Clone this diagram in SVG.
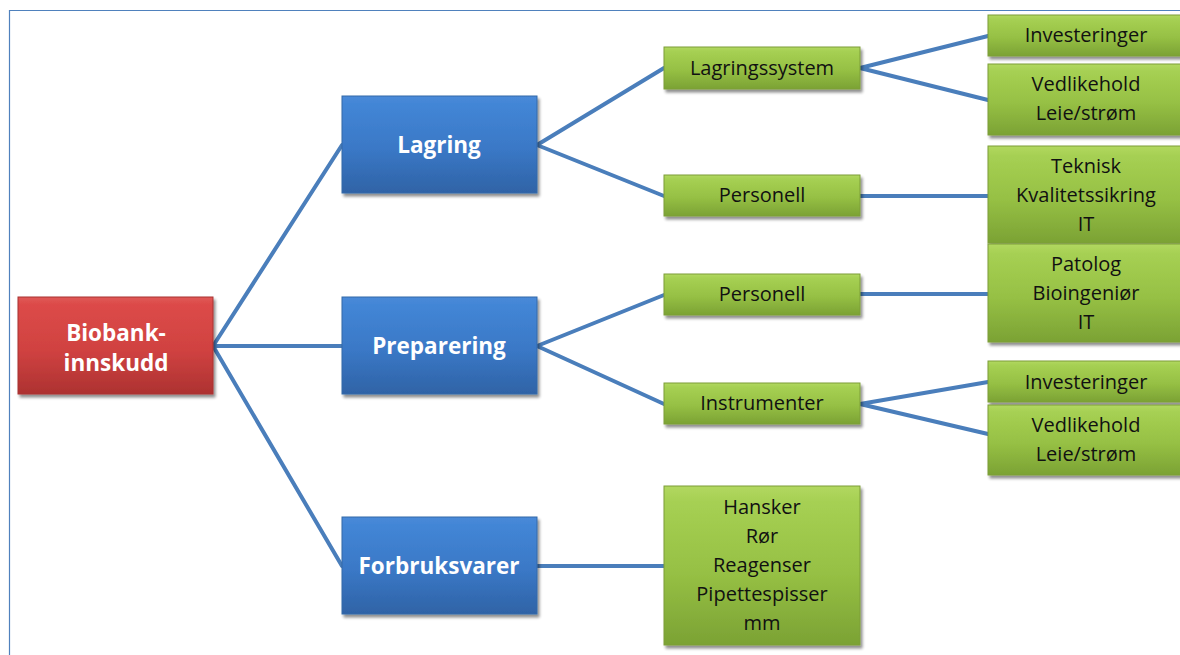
<svg xmlns="http://www.w3.org/2000/svg" width="1180" height="655" viewBox="0 0 1180 655">
<defs>
<linearGradient id="gBlue" x1="0" y1="0" x2="0" y2="1">
<stop offset="0" stop-color="#4a8ad8"/><stop offset="0.08" stop-color="#4386d6"/><stop offset="0.55" stop-color="#3a78c6"/><stop offset="1" stop-color="#2f63a6"/>
</linearGradient>
<linearGradient id="gRed" x1="0" y1="0" x2="0" y2="1">
<stop offset="0" stop-color="#e05a58"/><stop offset="0.08" stop-color="#dc4a48"/><stop offset="0.55" stop-color="#d04241"/><stop offset="1" stop-color="#ad3231"/>
</linearGradient>
<linearGradient id="gGreen" x1="0" y1="0" x2="0" y2="1">
<stop offset="0" stop-color="#b2d860"/><stop offset="0.1" stop-color="#a6d053"/><stop offset="0.55" stop-color="#96c044"/><stop offset="1" stop-color="#7ba234"/>
</linearGradient>
<filter id="sh" x="-10%" y="-10%" width="125%" height="130%">
<feGaussianBlur in="SourceAlpha" stdDeviation="1.5"/>
<feOffset dx="1.5" dy="2.5" result="o"/>
<feComponentTransfer><feFuncA type="linear" slope="0.45"/></feComponentTransfer>
<feMerge><feMergeNode/><feMergeNode in="SourceGraphic"/></feMerge>
</filter>
</defs>
<style>
.blue{fill:url(#gBlue);stroke:#3468a8;stroke-width:1;filter:url(#sh)}
.red{fill:url(#gRed);stroke:#a83231;stroke-width:1;filter:url(#sh)}
.green{fill:url(#gGreen);stroke:#7c9e38;stroke-width:1;filter:url(#sh)}
.wt{font-family:"Open Sans","Liberation Sans",sans-serif;font-weight:bold;font-size:22.5px;fill:#ffffff;text-anchor:middle}
.bt{font-family:"Open Sans","Liberation Sans",sans-serif;font-size:20px;fill:#111111;text-anchor:middle}
.conn{stroke:#4a7ebb;stroke-width:4;fill:none;stroke-linecap:round}
.frame{fill:none;stroke:#4f81bd;stroke-width:1.2}
</style>
<rect width="1180" height="655" fill="#ffffff"/>
<path class="frame" d="M9.5,655 V10.5 H1180"/>
<g id="connectors">
<path class="conn" d="M213,346 L342,145"/>
<path class="conn" d="M213,346 L342,346"/>
<path class="conn" d="M213,346 L342,566"/>
<path class="conn" d="M537,145 L664,68"/>
<path class="conn" d="M537,145 L664,196"/>
<path class="conn" d="M537,346 L664,295"/>
<path class="conn" d="M537,346 L664,404"/>
<path class="conn" d="M537,566 L664,566"/>
<path class="conn" d="M860,68 L988,36"/>
<path class="conn" d="M860,68 L988,100"/>
<path class="conn" d="M860,196 L988,196"/>
<path class="conn" d="M860,294 L988,294"/>
<path class="conn" d="M860,404 L988,382"/>
<path class="conn" d="M860,404 L988,434"/>
</g>
<g id="biobank"><rect class="red" x="18" y="297" width="195" height="97"/><text class="wt" x="116" y="341">Biobank-</text><text class="wt" x="116" y="371">innskudd</text></g>
<g id="lagring"><rect class="blue" x="342" y="96" width="195" height="97"/><text class="wt" x="439" y="153">Lagring</text></g>
<g id="preparering"><rect class="blue" x="342" y="297" width="195" height="97"/><text class="wt" x="439" y="354">Preparering</text></g>
<g id="forbruksvarer"><rect class="blue" x="342" y="517" width="195" height="97"/><text class="wt" x="439" y="574">Forbruksvarer</text></g>
<g id="lagringssystem"><rect class="green" x="664" y="47" width="196" height="42"/><text class="bt" x="762" y="75">Lagringssystem</text></g>
<g id="personell1"><rect class="green" x="664" y="175" width="196" height="41"/><text class="bt" x="762" y="202">Personell</text></g>
<g id="personell2"><rect class="green" x="664" y="274" width="196" height="41"/><text class="bt" x="762" y="301">Personell</text></g>
<g id="instrumenter"><rect class="green" x="664" y="383" width="196" height="41"/><text class="bt" x="762" y="410">Instrumenter</text></g>
<g id="forbruk-liste"><rect class="green" x="664" y="486" width="196" height="159"/>
<text class="bt" x="762" y="514">Hansker</text><text class="bt" x="762" y="543">Rør</text><text class="bt" x="762" y="572">Reagenser</text><text class="bt" x="762" y="601">Pipettespisser</text><text class="bt" x="762" y="630">mm</text></g>
<g id="investeringer1"><rect class="green" x="988" y="15" width="196" height="41"/><text class="bt" x="1086" y="42">Investeringer</text></g>
<g id="vedlikehold1"><rect class="green" x="988" y="64" width="196" height="71"/><text class="bt" x="1086" y="91">Vedlikehold</text><text class="bt" x="1086" y="120">Leie/strøm</text></g>
<g id="teknisk"><rect class="green" x="988" y="146" width="196" height="97"/><text class="bt" x="1086" y="173">Teknisk</text><text class="bt" x="1086" y="202">Kvalitetssikring</text><text class="bt" x="1086" y="231">IT</text></g>
<g id="patolog"><rect class="green" x="988" y="244" width="196" height="98"/><text class="bt" x="1086" y="271">Patolog</text><text class="bt" x="1086" y="300">Bioingeniør</text><text class="bt" x="1086" y="329">IT</text></g>
<g id="investeringer2"><rect class="green" x="988" y="361" width="196" height="41"/><text class="bt" x="1086" y="389">Investeringer</text></g>
<g id="vedlikehold2"><rect class="green" x="988" y="405" width="196" height="70"/><text class="bt" x="1086" y="432">Vedlikehold</text><text class="bt" x="1086" y="461">Leie/strøm</text></g>
</svg>
